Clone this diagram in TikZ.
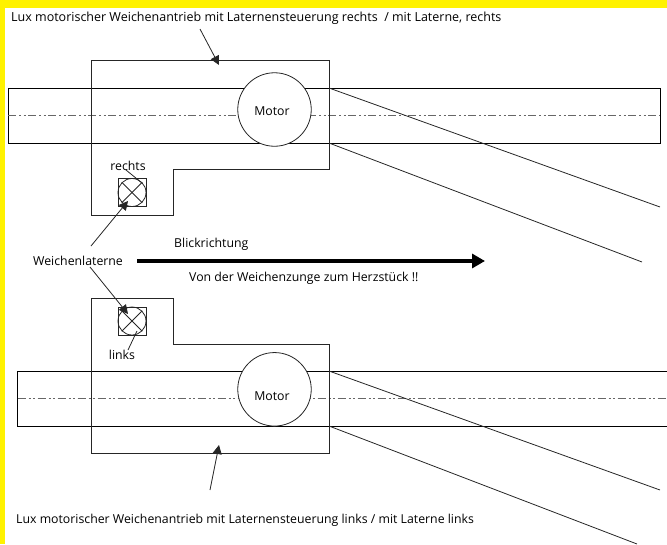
\documentclass[tikz,border=0pt]{standalone}
\usepackage{fontspec}
\usepackage{xcolor}
\setmainfont{Open Sans}
\usetikzlibrary{arrows.meta}
\definecolor{rand}{RGB}{255,242,0}
\begin{document}
\begin{tikzpicture}[x=1pt,y=-1pt]
      \useasboundingbox(0,0) rectangle (667,544);
      \tikzset{T/.style = {font=\fontsize{12.3}{15}\selectfont,text=black,inner sep=0pt}}
      \tikzset{TL/.style = {T,anchor=west}}
      \tikzset{L/.style = {draw=black!85,line width=0.8pt}}
      \tikzset{R/.style = {draw=black,line width=1pt}}
      \tikzset{M/.style = {draw=black!60,line width=1.5pt,dash pattern=on 8pt off 3pt on 2pt off 2.5pt on 2pt off 2.5pt}}
      \tikzset{P/.style = {L,-{Triangle[length=9pt,width=9pt]}}}
      \tikzset{K/.style = {shape=circle,draw=black!85,line width=0.8pt,fill=white,minimum size=73.5pt,inner sep=0pt}}
      \tikzset{B/.style = {shape=circle,draw=black!85,line width=0.8pt,minimum size=28pt,inner sep=0pt}}
      \tikzset{Q/.style = {draw=black!85,line width=0.8pt,minimum size=28pt,inner sep=0pt}}
      \fill[rand](0,0) rectangle (667,8);
      \fill[rand](0,0) rectangle (5,544);
      % oben
      \draw[R](8,88) rectangle (660,143);
      \draw[M](8,115.5) -- (660,115.5);
      \draw[L](329,88) -- (660,207);
      \draw[L](329,143) -- (642,262);
      \draw[L](91,60) -- (329,60) -- (329,169) -- (173,169) -- (173,215) -- (91,215) -- cycle;
      \node[K](m0) at (274.5,109.5) {};
      \node[T](mt0) at (272,111) {Motor};
      \node[Q](q0) at (132,192.5) {};
      \node[B](l0) at (132,192.5) {};
      \draw[L](l0.north west) -- (l0.south east);
      \draw[L](l0.north east) -- (l0.south west);
      \node[TL,font=\fontsize{12.5}{15}\selectfont](t0) at (11,18) {Lux motorischer Weichenantrieb mit Laternensteuerung rechts\ \ / mit Laterne, rechts};
      \coordinate(a0) at (200,29);
      \coordinate(a1) at (219,65);
      \draw[P](a0) -- (a1);
      \node[T](re) at (128,166) {rechts};
      \coordinate(r0) at (126,170);
      \coordinate(r1) at (142,183);
      \draw[L](r0) -- (r1);
      % mitte
      \node[TL](wl) at (33,261) {Weichenlaterne};
      \coordinate(w0) at (91,246);
      \coordinate(w1) at (128,201);
      \draw[P](w0) -- (w1);
      \coordinate(w2) at (90,267);
      \coordinate(w3) at (128,314);
      \draw[P](w2) -- (w3);
      \coordinate(b0) at (137,261);
      \coordinate(b1) at (485,261);
      \draw[draw=black,line width=3.2pt,-{Triangle[length=13pt,width=14pt]}](b0) -- (b1);
      \node[TL](br) at (174,244) {Blickrichtung};
      \node[TL](vo) at (189,278) {Von der Weichenzunge zum Herzstück !!};
      % unten
      \draw[R](667,371) -- (17.5,371) -- (17.5,426) -- (667,426);
      \draw[M](17.5,398.7) -- (667,398.7);
      \draw[L](329,371) -- (660,490);
      \draw[L](329,426) -- (637,544);
      \draw[L](91,298) -- (173,298) -- (173,344) -- (329,344) -- (329,453.5) -- (91,453.5) -- cycle;
      \node[K](m1) at (274.5,389.3) {};
      \node[T](mt1) at (272,396) {Motor};
      \node[Q](q1) at (132,321) {};
      \node[B](l1) at (132,321) {};
      \draw[L](l1.north west) -- (l1.south east);
      \draw[L](l1.north east) -- (l1.south west);
      \node[T](li) at (122,354.7) {links};
      \coordinate(r2) at (137,331);
      \coordinate(r3) at (128,350);
      \draw[L](r2) -- (r3);
      \coordinate(a2) at (210,490);
      \coordinate(a3) at (219,445);
      \draw[P](a2) -- (a3);
      \node[TL](t1) at (16,520) {Lux motorischer Weichenantrieb mit Laternensteuerung links / mit Laterne links};
    \end{tikzpicture}
\end{document}
